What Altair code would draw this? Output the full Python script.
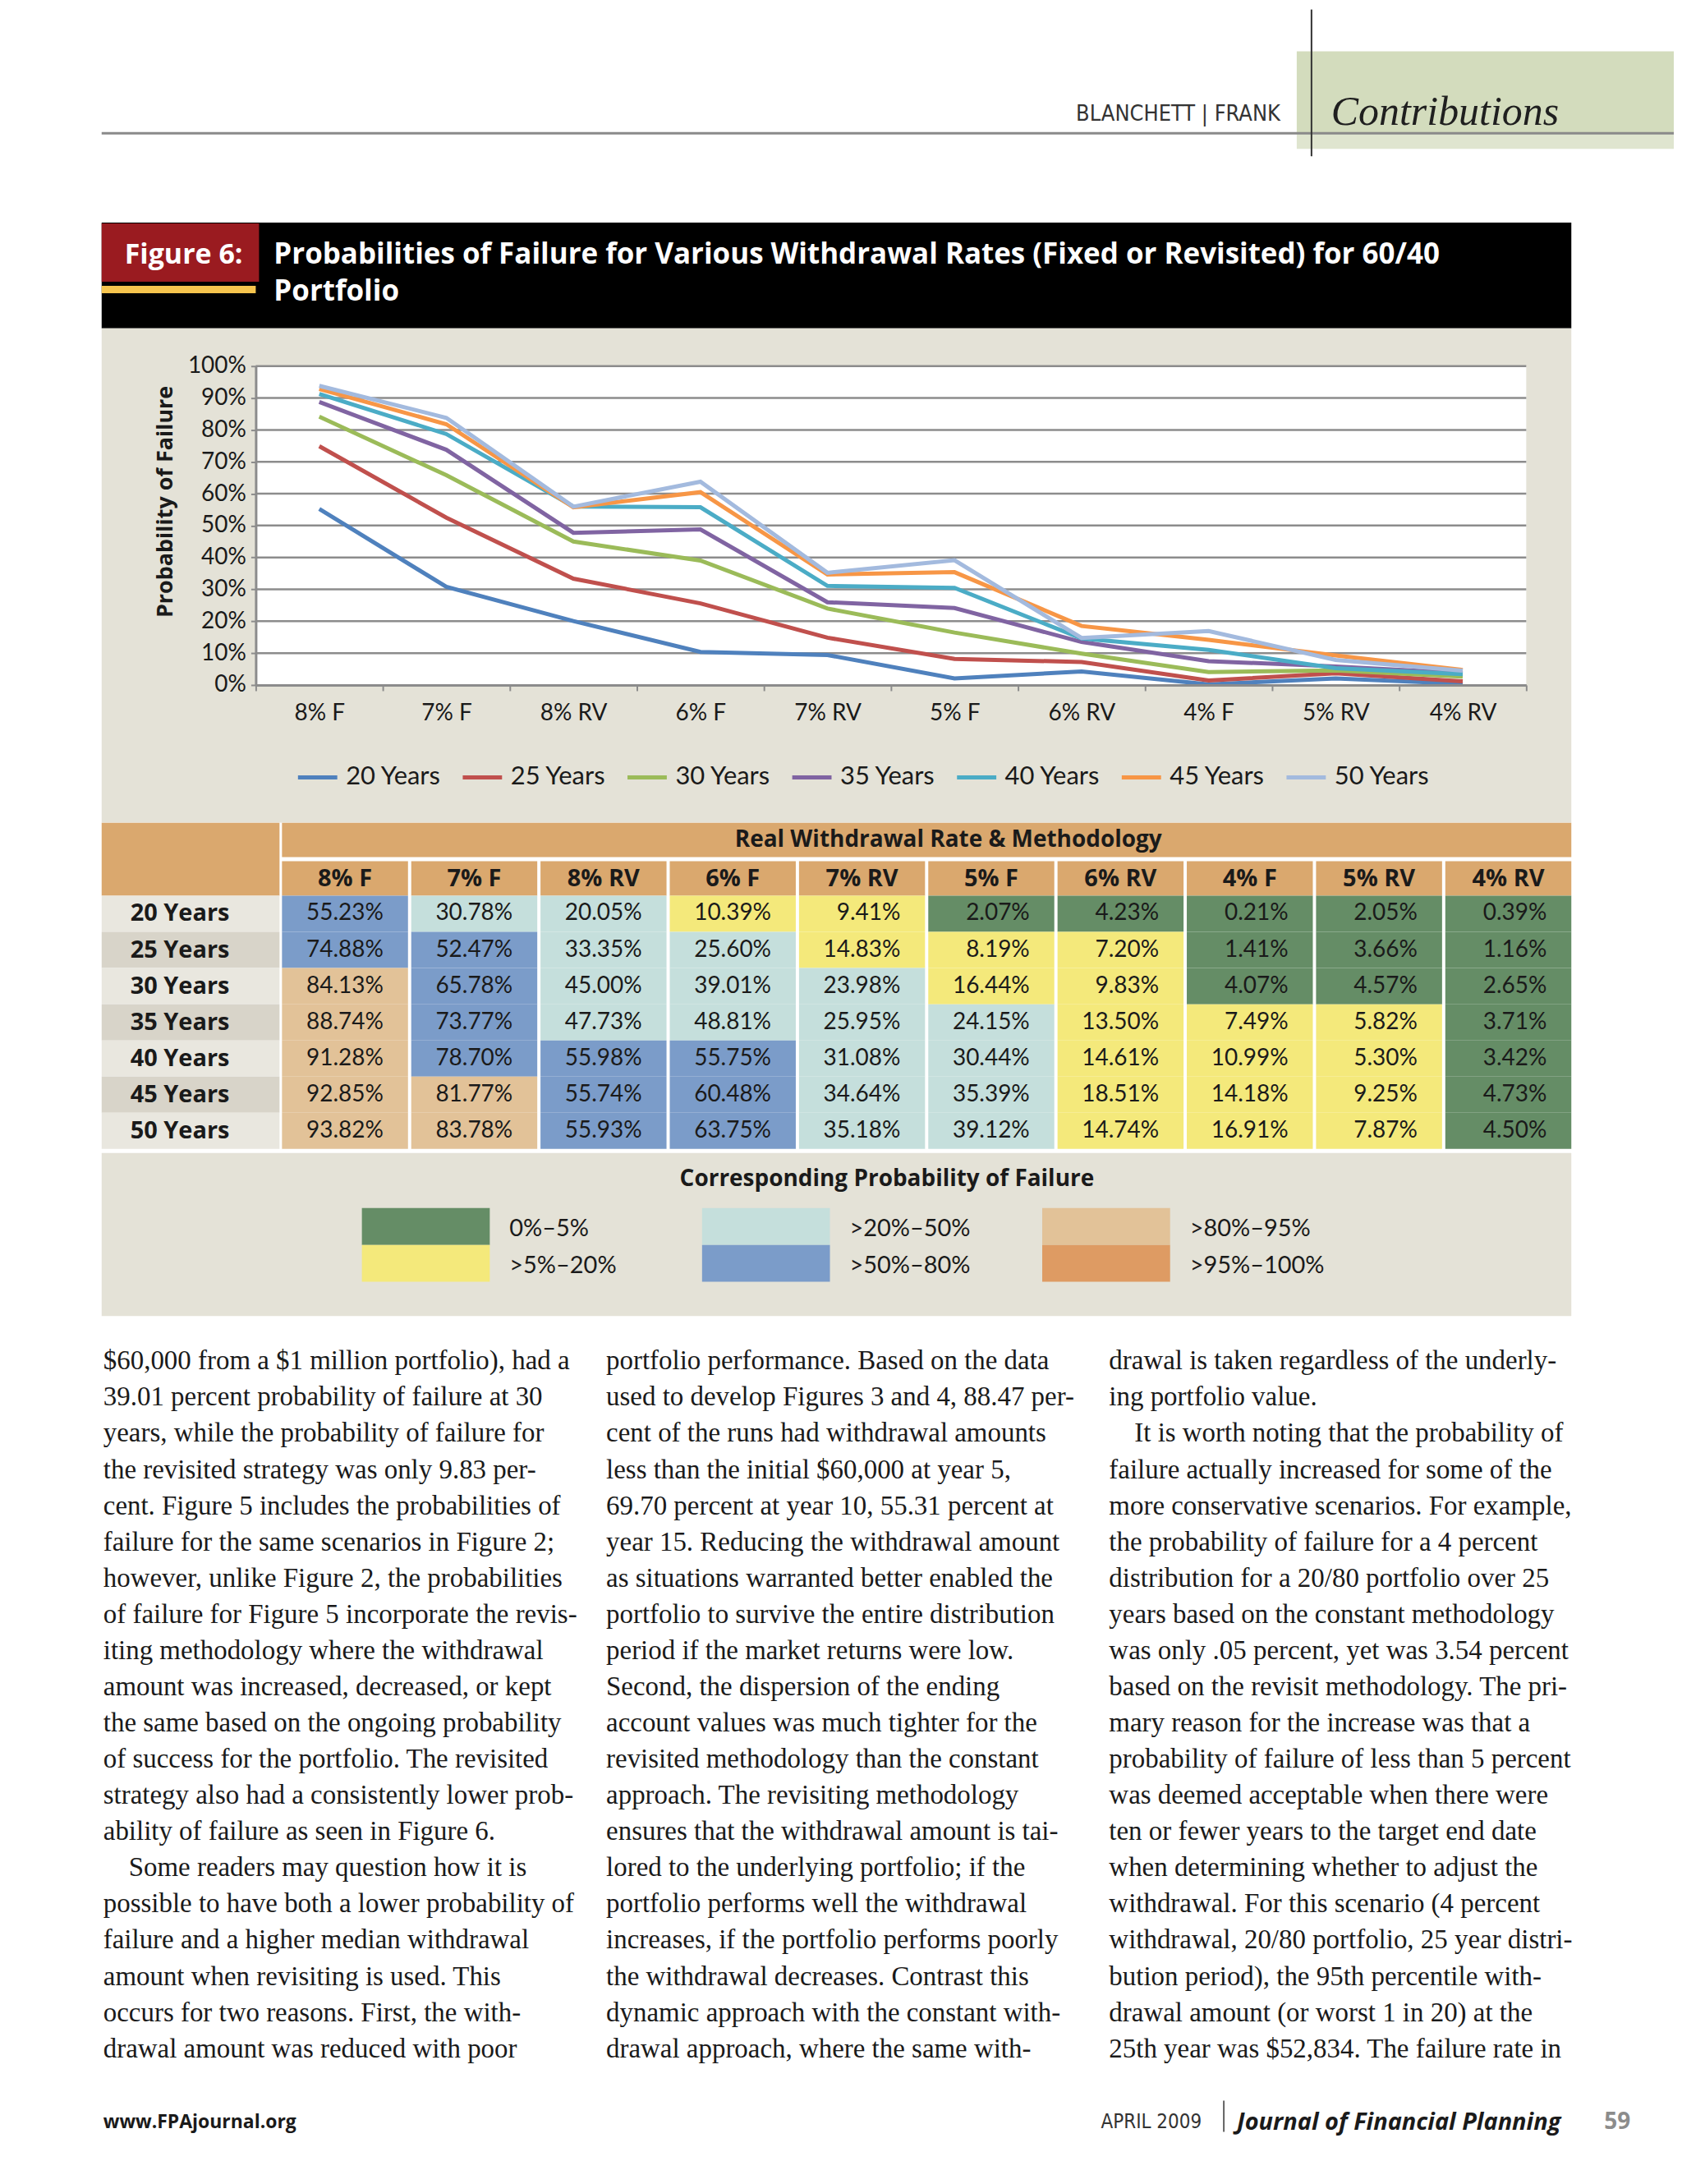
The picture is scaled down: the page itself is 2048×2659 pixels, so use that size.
import json
import altair as alt
import pandas as pd

# ---------------- data ----------------
cats = ["8% F", "7% F", "8% RV", "6% F", "7% RV", "5% F", "6% RV", "4% F", "5% RV", "4% RV"]
series = ["20 Years", "25 Years", "30 Years", "35 Years", "40 Years", "45 Years", "50 Years"]
v20 = [55.23, 30.78, 20.05, 10.39, 9.41, 2.07, 4.23, 0.21, 2.05, 0.39]
v25 = [74.88, 52.47, 33.35, 25.60, 14.83, 8.19, 7.20, 1.41, 3.66, 1.16]
v30 = [84.13, 65.78, 45.00, 39.01, 23.98, 16.44, 9.83, 4.07, 4.57, 2.65]
v35 = [88.74, 73.77, 47.73, 48.81, 25.95, 24.15, 13.50, 7.49, 5.82, 3.71]
v40 = [91.28, 78.70, 55.98, 55.75, 31.08, 30.44, 14.61, 10.99, 5.30, 3.42]
v45 = [92.85, 81.77, 55.74, 60.48, 34.64, 35.39, 18.51, 14.18, 9.25, 4.73]
v50 = [93.82, 83.78, 55.93, 63.75, 35.18, 39.12, 14.74, 16.91, 7.87, 4.50]
values = [v20, v25, v30, v35, v40, v45, v50]

y_ticks = [0, 10, 20, 30, 40, 50, 60, 70, 80, 90, 100]
line_colors = ["#4F81BD", "#C0504D", "#9BBB59", "#8064A2", "#4BACC6", "#F79646", "#A3BADE"]

bucket_edges = [5, 20, 50, 80, 95]
bucket_labels = ["0%–5%", ">5%–20%", ">20%–50%", ">50%–80%", ">80%–95%", ">95%–100%"]
bucket_colors = ["#658D66", "#F4E97B", "#C5DFDC", "#7B9CC9", "#E2C298", "#DE9B63"]

title_line1 = "Probabilities of Failure for Various Withdrawal Rates (Fixed or Revisited) for 60/40"
title_line2 = "Portfolio"

NB = "\u00a0"  # marks a paragraph's first (indented) line
col1 = [
    "$60,000 from a $1 million portfolio), had a",
    "39.01 percent probability of failure at 30",
    "years, while the probability of failure for",
    "the revisited strategy was only 9.83 per-",
    "cent. Figure 5 includes the probabilities of",
    "failure for the same scenarios in Figure 2;",
    "however, unlike Figure 2, the probabilities",
    "of failure for Figure 5 incorporate the revis-",
    "iting methodology where the withdrawal",
    "amount was increased, decreased, or kept",
    "the same based on the ongoing probability",
    "of success for the portfolio. The revisited",
    "strategy also had a consistently lower prob-",
    "ability of failure as seen in Figure 6.",
    NB + "Some readers may question how it is",
    "possible to have both a lower probability of",
    "failure and a higher median withdrawal",
    "amount when revisiting is used. This",
    "occurs for two reasons. First, the with-",
    "drawal amount was reduced with poor",
]
col2 = [
    "portfolio performance. Based on the data",
    "used to develop Figures 3 and 4, 88.47 per-",
    "cent of the runs had withdrawal amounts",
    "less than the initial $60,000 at year 5,",
    "69.70 percent at year 10, 55.31 percent at",
    "year 15. Reducing the withdrawal amount",
    "as situations warranted better enabled the",
    "portfolio to survive the entire distribution",
    "period if the market returns were low.",
    "Second, the dispersion of the ending",
    "account values was much tighter for the",
    "revisited methodology than the constant",
    "approach. The revisiting methodology",
    "ensures that the withdrawal amount is tai-",
    "lored to the underlying portfolio; if the",
    "portfolio performs well the withdrawal",
    "increases, if the portfolio performs poorly",
    "the withdrawal decreases. Contrast this",
    "dynamic approach with the constant with-",
    "drawal approach, where the same with-",
]
col3 = [
    "drawal is taken regardless of the underly-",
    "ing portfolio value.",
    NB + "It is worth noting that the probability of",
    "failure actually increased for some of the",
    "more conservative scenarios. For example,",
    "the probability of failure for a 4 percent",
    "distribution for a 20/80 portfolio over 25",
    "years based on the constant methodology",
    "was only .05 percent, yet was 3.54 percent",
    "based on the revisit methodology. The pri-",
    "mary reason for the increase was that a",
    "probability of failure of less than 5 percent",
    "was deemed acceptable when there were",
    "ten or fewer years to the target end date",
    "when determining whether to adjust the",
    "withdrawal. For this scenario (4 percent",
    "withdrawal, 20/80 portfolio, 25 year distri-",
    "bution period), the 95th percentile with-",
    "drawal amount (or worst 1 in 20) at the",
    "25th year was $52,834. The failure rate in",
]

# ---------------- styles ----------------
SANS = "Lato, Open Sans, sans-serif"
BOLD = "Open Sans, Lato, sans-serif"
SERIF = "Liberation Serif, DejaVu Serif, serif"
NARROW = "Liberation Sans Narrow, DejaVu Sans Condensed, Lato, sans-serif"
GRAY = "#E4E2D7"
GRIDC = "#8C8C8C"
ORANGE = "#DAA86E"
INK = "#1a1a1a"

# every panel shares the same origin (left edge of the line-chart plot);
# decorations to the left use negative offsets down to L
L = -188

one = pd.DataFrame({"k": [0]})


def rect(x, x2, y, y2, color):
    return alt.Chart(one).mark_rect(color=color).encode(
        x=alt.value(x), x2=alt.value(x2), y=alt.value(y), y2=alt.value(y2))


def txt(s, x, y, size, font, color=INK, weight="normal", style="normal",
        align="left", baseline="alphabetic"):
    return alt.Chart(one).mark_text(
        text=s, fontSize=size, font=font, color=color, fontWeight=weight,
        fontStyle=style, align=align, baseline=baseline).encode(
        x=alt.value(x), y=alt.value(y))


def hline(x, x2, y, color, w):
    return alt.Chart(one).mark_rule(color=color, strokeWidth=w).encode(
        x=alt.value(x), x2=alt.value(x2), y=alt.value(y))


def vline(x, y, y2, color, w):
    return alt.Chart(one).mark_rule(color=color, strokeWidth=w).encode(
        x=alt.value(x), y=alt.value(y), y2=alt.value(y2))


# ---------------- header ----------------
header = alt.layer(
    rect(L, 1730, 0, 260, "white"),
    rect(1270, 1730, 51, 151, "#D3DCBD"),
    rect(1270, 1730, 151, 170, "#DFE5CF"),
    hline(L, 1730, 151, "#8a8a8a", 3),
    vline(1288, 0, 179, "#333333", 2),
    txt("BLANCHETT | FRANK", 1250, 136, 27, NARROW, color="#333333", align="right"),
    txt("Contributions", 1312, 141, 50, SERIF, color="#1f1f1f", style="italic"),
).properties(width=1730, height=260)

# ---------------- title bar ----------------
titlebar = alt.layer(
    rect(L, 1605, 0, 129, "#000000"),
    rect(L, 4, 1, 72, "#9A1B20"),
    rect(L, 0, 77, 86, "#F6C54E"),
    txt("Figure 6:", -88, 50, 34, BOLD, "white", "bold", align="center"),
    txt(title_line1, 22, 50, 35, BOLD, "white", "bold"),
    txt(title_line2, 22, 95, 35, BOLD, "white", "bold"),
).properties(width=1605, height=129)

# ---------------- line chart ----------------
rows = []
for s, vals in zip(series, values):
    for c, v in zip(cats, vals):
        rows.append({"s": s, "c": c, "v": v})
df = pd.DataFrame(rows)

xenc = alt.X("c:N", sort=cats,
             scale=alt.Scale(type="band", paddingInner=0, paddingOuter=0),
             axis=alt.Axis(title=None, labelFont=SANS, labelFontSize=28, labelColor=INK,
                           labelPadding=14, tickBand="extent", tickSize=7, tickColor=GRIDC,
                           tickWidth=2, domainColor=GRIDC, domainWidth=3, labelAngle=0,
                           grid=False, zindex=1))
yenc = alt.Y("v:Q", scale=alt.Scale(domain=[0, 100]),
             axis=alt.Axis(values=y_ticks, labelExpr="datum.value + '%'", labelFont=SANS,
                           labelFontSize=28, labelColor=INK, labelPadding=6, tickSize=6,
                           tickColor=GRIDC, tickWidth=2, domainColor=GRIDC, domainWidth=3,
                           grid=False, title="Probability of Failure", titleFont=BOLD,
                           titleFontSize=27, titleFontWeight="bold", titleColor=INK,
                           titleX=-110, titleY=165, titleAngle=270, titleAlign="center",
                           titleBaseline="middle", zindex=1))

grid = alt.Chart(pd.DataFrame({"v": y_ticks[1:]})).mark_rule(
    color=GRIDC, strokeWidth=2.5).encode(y=yenc, x=alt.value(0), x2=alt.value(1550))

lines = alt.Chart(df).mark_line(strokeWidth=5).encode(
    x=xenc, y=yenc,
    color=alt.Color("s:N", scale=alt.Scale(domain=series, range=line_colors),
                    legend=alt.Legend(title=None, orient="none", legendX=49, legendY=475,
                                      direction="horizontal", columns=7, symbolType="stroke",
                                      symbolStrokeWidth=5, symbolSize=2300, labelFont=SANS,
                                      labelFontSize=31, labelColor=INK, labelOffset=8,
                                      columnPadding=15)))

linechart = alt.layer(
    rect(L, 1605, -46, 557, GRAY),
    rect(0, 1550, 0, 389, "white"),
    grid, lines,
).properties(width=1550, height=389)

# ---------------- table ----------------
xs = alt.Scale(type="band", domain=cats, range=[32, 1605], paddingInner=0.025, paddingOuter=0)
ys = alt.Scale(type="band", domain=series, paddingInner=0, paddingOuter=0)
cat_df = pd.DataFrame({"c": cats})
row_df = pd.DataFrame({"r": series})
tab_df = df.rename(columns={"s": "r"})

hdr_cells = alt.Chart(cat_df).mark_rect(color=ORANGE).encode(
    x=alt.X("c:N", scale=xs, axis=None), y=alt.value(-42), y2=alt.value(0))
hdr_text = alt.Chart(cat_df).mark_text(font=BOLD, fontSize=29, fontWeight="bold",
                                       color=INK, baseline="middle").encode(
    x=alt.X("c:N", scale=xs, axis=None), y=alt.value(-20), text="c:N")
row_cells = alt.Chart(row_df).mark_rect().encode(
    y=alt.Y("r:N", scale=ys, axis=None), x=alt.value(L), x2=alt.value(29),
    color=alt.condition(f"indexof({json.dumps(series)}, datum.r) % 2 == 1",
                        alt.value("#D8D4C9"), alt.value("#E9E7DF")))
row_text = alt.Chart(row_df).mark_text(font=BOLD, fontSize=29, fontWeight="bold",
                                       color=INK, align="left", baseline="middle").encode(
    y=alt.Y("r:N", scale=ys, axis=None), x=alt.value(-153), text="r:N")
cells = alt.Chart(tab_df).mark_rect().encode(
    x=alt.X("c:N", scale=xs, axis=None), y=alt.Y("r:N", scale=ys, axis=None),
    color=alt.Color("v:Q", scale=alt.Scale(type="threshold", domain=bucket_edges,
                                           range=bucket_colors), legend=None))
cell_text = alt.Chart(tab_df).transform_calculate(
    lab="format(datum.v, '.2f') + '%'").mark_text(
    font=SANS, fontSize=28, color=INK, align="right", dx=-30, baseline="middle").encode(
    x=alt.X("c:N", scale=xs, axis=None, bandPosition=1),
    y=alt.Y("r:N", scale=ys, axis=None), text="lab:N")

table = alt.layer(
    rect(L, 1605, -89, 314, "white"),
    rect(L, 29, -89, 0, ORANGE),
    rect(32, 1605, -89, -47, ORANGE),
    txt("Real Withdrawal Rate & Methodology", 845, -68, 28, BOLD, weight="bold",
        align="center", baseline="middle"),
    hdr_cells, hdr_text, row_cells, row_text, cells, cell_text,
).properties(width=1605, height=309)

# ---------------- colour key ----------------
leg_df = pd.DataFrame({"lab": bucket_labels})
gs = alt.Scale(type="band", domain=[0, 1, 2], range=[0, 1245], paddingInner=0, paddingOuter=0)
rs = alt.Scale(type="band", domain=[0, 1], range=[67, 157], paddingInner=0, paddingOuter=0)
leg_base = alt.Chart(leg_df).transform_window(idx="row_number()").transform_calculate(
    g="floor((datum.idx - 1) / 2)", r="(datum.idx - 1) % 2")
swatches = leg_base.mark_rect(width=156, height=45).encode(
    x=alt.X("g:O", scale=gs, axis=None), y=alt.Y("r:O", scale=rs, axis=None),
    color=alt.Color("lab:N", scale=alt.Scale(domain=bucket_labels, range=bucket_colors),
                    legend=None))
sw_labels = leg_base.mark_text(font=SANS, fontSize=29, color=INK, align="left", dx=102, dy=3,
                               baseline="middle").encode(
    x=alt.X("g:O", scale=gs, axis=None), y=alt.Y("r:O", scale=rs, axis=None), text="lab:N")

keyp = alt.layer(
    rect(L, 1605, 0, 199, GRAY),
    txt("Corresponding Probability of Failure", 770, 32, 28, BOLD, weight="bold",
        align="center", baseline="middle"),
    swatches, sw_labels,
).properties(width=1605, height=199)

# ---------------- body text ----------------
brows = []
for ci, col in enumerate([col1, col2, col3]):
    for li, line in enumerate(col):
        brows.append({"c": ci, "i": li, "t": line})
body_df = pd.DataFrame(brows)
bx = alt.X("c:O", scale=alt.Scale(type="point", domain=[0, 1, 2], range=[-186, 1041], padding=0),
           axis=None)
by = alt.Y("i:Q", scale=alt.Scale(domain=[0, 19], range=[65, 904]), axis=None)
first_line = f"indexof(datum.t, '{NB}') == 0"
body = alt.Chart(body_df).transform_filter(f"!({first_line})").mark_text(
    font=SERIF, fontSize=33, color=INK, align="left", baseline="alphabetic").encode(
    x=bx, y=by, text="t:N")
body_ind = alt.Chart(body_df).transform_filter(first_line).transform_calculate(
    tt="trim(datum.t)").mark_text(
    font=SERIF, fontSize=33, color=INK, align="left", baseline="alphabetic", dx=31).encode(
    x=bx, y=by, text="tt:N")

textp = alt.layer(
    rect(L, 1730, 0, 1049, "white"),
    body, body_ind,
    txt("www.FPAjournal.org", -186, 983, 23, BOLD, weight="bold", baseline="middle"),
    txt("APRIL 2009", 1154, 983, 24, NARROW, color="#333333", align="right", baseline="middle"),
    vline(1181, 957, 995, "#333333", 1.5),
    txt("Journal of Financial Planning", 1197, 983, 29, BOLD, weight="bold", style="italic",
        baseline="middle"),
    txt("59", 1645, 983, 28, BOLD, color="#8c8c8c", weight="bold", baseline="middle"),
).properties(width=1730, height=1049)

chart = alt.vconcat(header, titlebar, linechart, table, keyp, textp, spacing=0).properties(
    padding={"left": 114, "top": 0, "right": 0, "bottom": 0}, background="white"
).configure_view(strokeWidth=0)

chart.save("out.html", embed_options={"renderer": "svg", "actions": False})
